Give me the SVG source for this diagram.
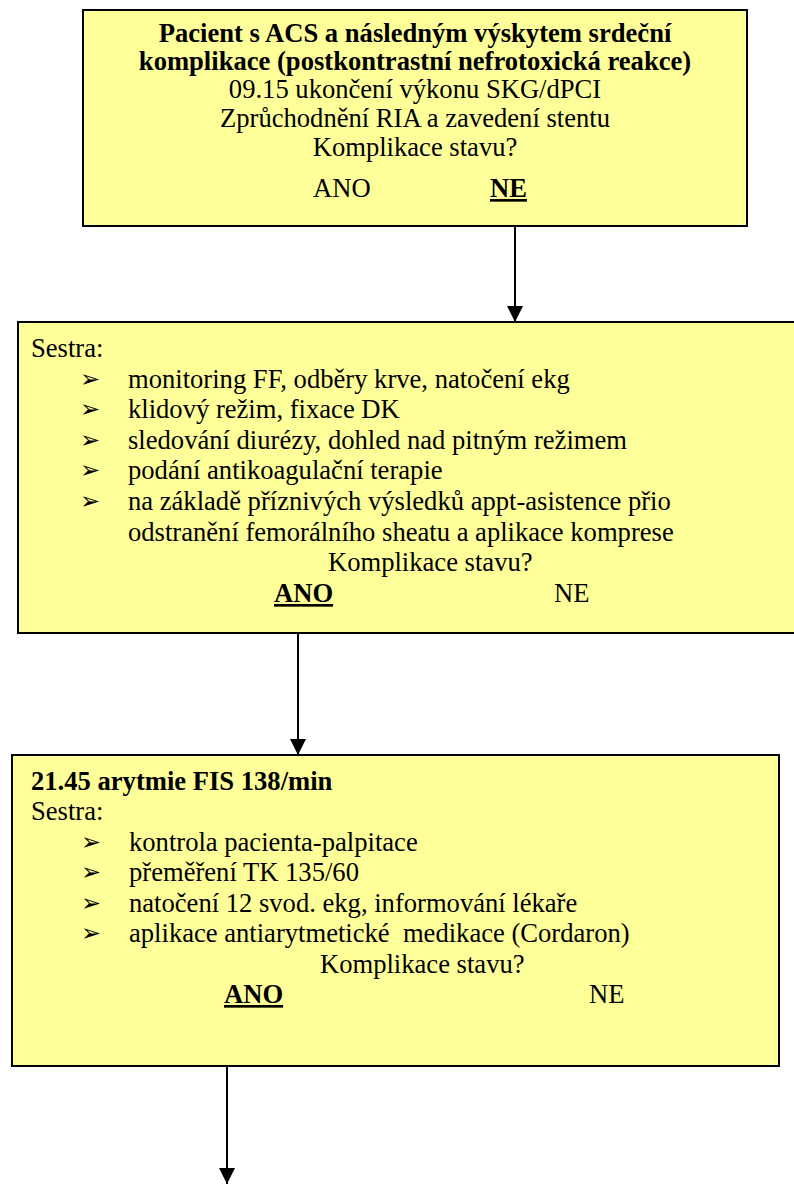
<svg xmlns="http://www.w3.org/2000/svg" width="794" height="1185" viewBox="0 0 794 1185">
  <style>
    .box { fill: #FFFF99; stroke: #000; stroke-width: 2; }
    text { font-family: 'Liberation Serif', 'Times New Roman', serif; font-size: 26.6px; fill: #000; }
    .b { font-weight: bold; }
    .u { text-decoration: underline; }
    .c { text-anchor: middle; }
    text.bul { font-family: 'DejaVu Sans', sans-serif; font-size: 24px; }
    .conn { stroke: #000; stroke-width: 2; fill: none; marker-end: url(#arrow); }
  </style>
  <defs>
    <marker id="arrow" viewBox="0 0 16 16" refX="16" refY="8" markerWidth="16" markerHeight="16" markerUnits="userSpaceOnUse" orient="auto">
      <path d="M0,0 L16,8 L0,16 Z" fill="#000"/>
    </marker>
  </defs>
  <rect width="794" height="1185" fill="#fff"/>

  <g id="connectors">
    <line class="conn" x1="515" y1="227" x2="515" y2="322"/>
    <line class="conn" x1="298" y1="634" x2="298" y2="755"/>
    <line class="conn" x1="227" y1="1067" x2="227" y2="1184"/>
  </g>

  <g id="node-start">
    <rect class="box" x="83" y="10" width="664" height="216"/>
    <text class="b c" x="415" y="42">Pacient s ACS a následným výskytem srdeční</text>
    <text class="b c" x="415" y="70">komplikace (postkontrastní nefrotoxická reakce)</text>
    <text class="c" x="415" y="98">09.15 ukončení výkonu SKG/dPCI</text>
    <text class="c" x="415" y="127">Zprůchodnění RIA a zavedení stentu</text>
    <text class="c" x="415" y="156">Komplikace stavu?</text>
    <text x="313" y="197">ANO</text>
    <text class="b u" x="490" y="197">NE</text>
  </g>

  <g id="node-sestra">
    <rect class="box" x="18" y="322" width="781" height="311"/>
    <text x="31" y="357">Sestra:</text>
    <text class="bul" x="80" y="387">➢</text>
    <text x="128" y="388">monitoring FF, odběry krve, natočení ekg</text>
    <text class="bul" x="80" y="417">➢</text>
    <text x="128" y="418">klidový režim, fixace DK</text>
    <text class="bul" x="80" y="448">➢</text>
    <text x="128" y="449">sledování diurézy, dohled nad pitným režimem</text>
    <text class="bul" x="80" y="478">➢</text>
    <text x="128" y="479">podání antikoagulační terapie</text>
    <text class="bul" x="80" y="509">➢</text>
    <text x="128" y="510">na základě příznivých výsledků appt-asistence přio</text>
    <text x="128" y="541">odstranění femorálního sheatu a aplikace komprese</text>
    <text x="328" y="571">Komplikace stavu?</text>
    <text class="b u" x="274" y="602">ANO</text>
    <text x="554" y="602">NE</text>
  </g>

  <g id="node-arytmie">
    <rect class="box" x="12" y="755" width="767" height="311"/>
    <text class="b" x="31" y="790">21.45 arytmie FIS 138/min</text>
    <text x="31" y="820">Sestra:</text>
    <text class="bul" x="81" y="850">➢</text>
    <text x="129" y="851">kontrola pacienta-palpitace</text>
    <text class="bul" x="81" y="880">➢</text>
    <text x="129" y="881">přeměření TK 135/60</text>
    <text class="bul" x="81" y="911">➢</text>
    <text x="129" y="912">natočení 12 svod. ekg, informování lékaře</text>
    <text class="bul" x="81" y="941">➢</text>
    <text x="129" y="942">aplikace antiarytmetické&#160; medikace (Cordaron)</text>
    <text x="320" y="973">Komplikace stavu?</text>
    <text class="b u" x="224" y="1003">ANO</text>
    <text x="589" y="1003">NE</text>
  </g>
</svg>
